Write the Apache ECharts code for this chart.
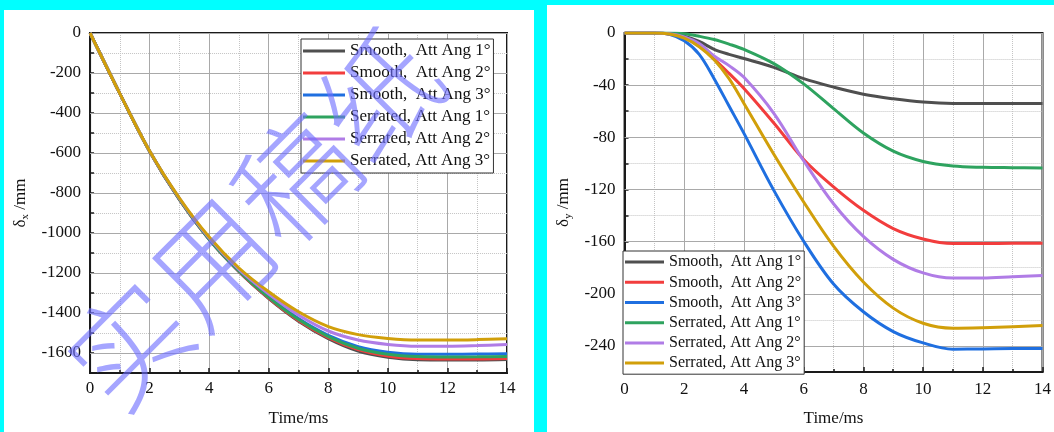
<!DOCTYPE html>
<html>
<head>
<meta charset="utf-8">
<script src="https://cdn.jsdelivr.net/npm/echarts@6/dist/echarts.min.js"></script>
<style>
html,body{margin:0;padding:0;width:1054px;height:432px;background:#00ffff;overflow:hidden;}
#c1{position:absolute;left:4px;top:10px;width:530px;height:422px;background:#fff;}
#c2{position:absolute;left:547px;top:5px;width:507px;height:427px;background:#fff;}
</style>
</head>
<body>
<div id="c1"></div>
<div id="c2"></div>
<script>
// ---------- data ----------
const seriesNames = ['Smooth,  Att Ang 1°','Smooth,  Att Ang 2°','Smooth,  Att Ang 3°','Serrated, Att Ang 1°','Serrated, Att Ang 2°','Serrated, Att Ang 3°'];
const seriesColors = ['#4f4f4f','#f23d3d','#1f6fe0','#2ea35f','#b07ce6','#d19f0a'];

// left panel: delta_x (mm)
const timeX = [0,1,2,3,4,5,6,7,8,9,10,11,12,13,14];
const dxSmooth1 = [0,-303,-592,-833,-1033,-1194,-1328,-1441,-1528,-1590,-1621,-1634,-1635,-1635,-1633];
const dxSmooth2 = [0,-303,-592,-832,-1032,-1192,-1325,-1437,-1523,-1583,-1615,-1628,-1630,-1630,-1628];
const dxSmooth3 = [0,-303,-591,-830,-1030,-1188,-1318,-1428,-1512,-1568,-1596,-1606,-1606,-1605,-1604];
const dxSerr1   = [0,-303,-591,-831,-1031,-1190,-1322,-1433,-1518,-1576,-1606,-1618,-1620,-1619,-1617];
const dxSerr2   = [0,-303,-590,-827,-1025,-1182,-1305,-1410,-1490,-1535,-1557,-1566,-1566,-1563,-1558];
const dxSerr3   = [0,-303,-590,-825,-1020,-1175,-1294,-1394,-1468,-1508,-1527,-1535,-1535,-1533,-1529];

// right panel: delta_y (mm)
const timeY = [0,1,1.5,2,2.5,3,3.5,4,5,6,7,8,9,10,11,12,13,14];
const dySmooth1 = [0,0,-0.5,-2.5,-6.5,-12.5,-16.4,-19.6,-26.4,-35,-41.5,-47,-50.5,-53,-54,-54,-54,-54];
const dySmooth2 = [0,0,-0.8,-3.5,-10,-20,-31,-42.5,-69,-97,-118,-136,-150,-158,-161.5,-161.5,-161.3,-161.3];
const dySmooth3 = [0,0,-1,-6,-16.4,-35,-56,-77,-120.7,-159.7,-192.5,-213.8,-229,-237.7,-242.5,-242.3,-242,-242];
const dySerr1   = [0,0,0,-0.5,-2.5,-5,-8.5,-12.6,-23.5,-39,-58,-76.7,-90.6,-98.5,-102,-103,-103.3,-103.5];
const dySerr2   = [0,0,-0.5,-3,-8,-17.6,-25,-34,-61.6,-98,-131,-156,-173.6,-184,-188,-188,-187,-186];
const dySerr3   = [0,0,-0.8,-4,-10.5,-20.5,-35,-54,-93,-129.6,-163.5,-191,-211,-222.6,-226.4,-226,-225.2,-224.4];

// ticks
const xMin = 0, xMax = 14, xStep = 2;
const leftYMin = -1700, leftYMax = 0, leftYMinor = 100, leftYMajorStep = 200;
const leftYMajorTicks = [0,-200,-400,-600,-800,-1000,-1200,-1400,-1600];
const rightYMin = -260, rightYMax = 0, rightYMinor = 20, rightYMajorStep = 40;
const rightYMajorTicks = [0,-40,-80,-120,-160,-200,-240];

const watermarkText = '实用稿纸';

// ---------- helpers ----------
const FONT = '"Liberation Serif","Times New Roman",serif';

function pairs(t, v){ return t.map((x,i)=>[x, v[i]]); }

function buildSeries(t, arrs, majorTicks){
  return arrs.map((a,i)=>{
    const s = {
      name: seriesNames[i], type:'line', data: pairs(t,a),
      smooth: 0.35, symbol:'none', showSymbol:false,
      lineStyle:{width:3, color: seriesColors[i]},
      itemStyle:{color: seriesColors[i]},
      animation:false, z: 3
    };
    if (i === 0) {
      s.markLine = {
        silent:true, symbol:['none','none'], animation:false, z:1,
        label:{show:false},
        lineStyle:{type:'solid', color:'#a9a9a9', width:1},
        emphasis:{disabled:true},
        data: majorTicks.map(v=>({yAxis:v}))
      };
    }
    return s;
  });
}

function baseOption(opts){
  return {
    animation:false,
    textStyle:{fontFamily:FONT},
    grid:{left:opts.grid[0], top:opts.grid[1], width:opts.grid[2], height:opts.grid[3],
          show:true, borderColor:'#1a1a1a', borderWidth:2, backgroundColor:'transparent'},
    xAxis:{
      type:'value', min:xMin, max:xMax, interval:xStep,
      name:'Time/ms', nameLocation:'middle', nameGap:opts.xNameGap,
      nameTextStyle:{fontFamily:FONT, fontSize:17, color:'#111'},
      axisLine:{show:true, onZero:false, lineStyle:{color:'#1a1a1a', width:2}},
      axisTick:{show:true, inside:true, length:5, lineStyle:{color:'#1a1a1a', width:1.5}},
      minorTick:{show:true, splitNumber:2, length:3, lineStyle:{color:'#1a1a1a', width:1.5}},
      axisLabel:{fontFamily:FONT, fontSize:17, color:'#111', margin:opts.xLabelMargin},
      splitLine:{show:true, lineStyle:{color:'#a9a9a9', width:1, type:'solid'}},
      minorSplitLine:{show:true, lineStyle:{color:'#c4c4c4', width:1, type:'dotted'}}
    },
    yAxis:{
      type:'value', min:opts.yMin, max:opts.yMax, interval:opts.yMinor,
      name:opts.yName, nameLocation:'middle', nameGap:opts.yNameGap, nameRotate:90,
      nameTextStyle:{fontFamily:FONT, fontSize:17, color:'#111',
        rich:{d:{fontFamily:FONT,fontSize:17,lineHeight:20,color:'#111'},
              s:{fontFamily:FONT,fontSize:11,lineHeight:20,verticalAlign:'bottom',color:'#111'},
              u:{fontFamily:FONT,fontSize:17,lineHeight:20,color:'#111'}}},
      axisLine:{show:true, onZero:false, lineStyle:{color:'#1a1a1a', width:2}},
      axisTick:{show:true, inside:true, length:4, lineStyle:{color:'#1a1a1a', width:1.5}},
      axisLabel:{fontFamily:FONT, fontSize:17, color:'#111', margin:9,
        formatter: v => (Math.round(v) % opts.yMajorStep === 0 ? String(v) : '')},
      splitLine:{show:true, lineStyle:{color:'#c4c4c4', width:1, type:'dotted'}}
    },
    legend:{
      orient:'vertical', left:opts.legend[0], top:opts.legend[1],
      icon:'rect', itemWidth:opts.legendItemW, itemHeight:3, itemGap:4,
      padding:[3,3,3,2], borderColor:'#333', borderWidth:1, backgroundColor:'#fff',
      textStyle:{fontFamily:FONT, fontSize:opts.legendFont, lineHeight:opts.legendLH, color:'#111'},
      data: seriesNames, selectedMode:false, z:5
    },
    series: opts.series
  };
}

// ---------- left chart ----------
const chart1 = echarts.init(document.getElementById('c1'), null, {renderer:'canvas'});
const opt1 = baseOption({
  grid:[78,23,425,342], xNameGap:37, xLabelMargin:7,
  yMin:leftYMin, yMax:leftYMax, yMinor:leftYMinor, yMajorStep:leftYMajorStep,
  yName:'{d|δ}{s|x}{u| /mm}', yNameGap:56,
  legend:[297,29], legendItemW:42, legendFont:17, legendLH:18,
  series: buildSeries(timeX, [dxSmooth1,dxSmooth2,dxSmooth3,dxSerr1,dxSerr2,dxSerr3], leftYMajorTicks)
});
opt1.graphic = [{
  type:'text', x:250, y:210, rotation:Math.PI/4, z:100, silent:true,
  style:{text:watermarkText, font:'300 118px "Noto Sans CJK SC"', fill:'rgba(110,110,255,0.62)',
         align:'center', verticalAlign:'middle', textAlign:'center', textVerticalAlign:'middle'}
}];
chart1.setOption(opt1);

// ---------- right chart ----------
const chart2 = echarts.init(document.getElementById('c2'), null, {renderer:'canvas'});
const opt2 = baseOption({
  grid:[68,28,428,344], xNameGap:38, xLabelMargin:9,
  yMin:rightYMin, yMax:rightYMax, yMinor:rightYMinor, yMajorStep:rightYMajorStep,
  yName:'{d|δ}{s|y}{u| /mm}', yNameGap:42,
  legend:[76,246], legendItemW:39, legendFont:16, legendLH:16.2,
  series: buildSeries(timeY, [dySmooth1,dySmooth2,dySmooth3,dySerr1,dySerr2,dySerr3], rightYMajorTicks)
});
chart2.setOption(opt2);
</script>
</body>
</html>
